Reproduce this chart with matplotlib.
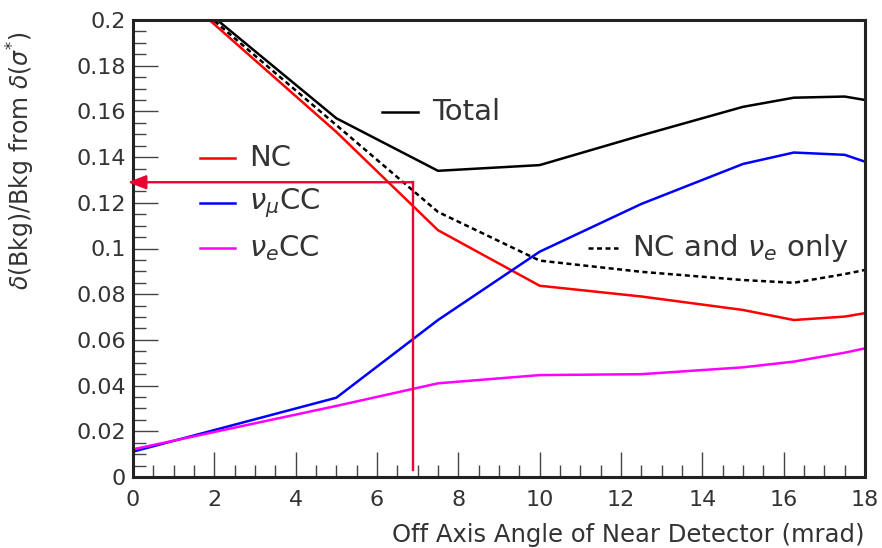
import matplotlib
matplotlib.use("Agg")
import matplotlib.pyplot as plt
from matplotlib.ticker import MultipleLocator, FixedLocator

plt.rcParams['mathtext.fontset'] = 'dejavusans'
plt.rcParams['font.family'] = ['DejaVu Sans']

# Off-axis angle (mrad)
angle = [0.0, 5.0, 7.5, 10.0, 12.5, 15.0, 16.25, 17.5, 18.0]

# Relative background uncertainty from cross-section uncertainty
total      = [0.2304, 0.157, 0.134, 0.1365, 0.1495, 0.162, 0.166, 0.1665, 0.165]
nc         = [0.2295, 0.151, 0.108, 0.0837, 0.0790, 0.0731, 0.0687, 0.0702, 0.0717]
numu_cc    = [0.0111, 0.0347, 0.0687, 0.0986, 0.1195, 0.1370, 0.1420, 0.1410, 0.1380]
nue_cc     = [0.0121, 0.0311, 0.0410, 0.0446, 0.0450, 0.0480, 0.0505, 0.0544, 0.0563]
nc_nue     = [0.2300, 0.1540, 0.1160, 0.0947, 0.0898, 0.0862, 0.0850, 0.0888, 0.0906]

# Marked operating point
chosen_angle = 6.88
chosen_value = 0.129

xticks = [0, 2, 4, 6, 8, 10, 12, 14, 16, 18]
yticks = [0, 0.02, 0.04, 0.06, 0.08, 0.1, 0.12, 0.14, 0.16, 0.18, 0.2]
ytick_labels = ["0", "0.02", "0.04", "0.06", "0.08", "0.1", "0.12",
                "0.14", "0.16", "0.18", "0.2"]

txt = "#333333"
fig = plt.figure(figsize=(8.82, 5.48), dpi=100)
ax = fig.add_axes([133 / 882, 71 / 548, 732 / 882, 457 / 548])

lw = 1.8
dash = (0, (2.0, 1.4))
ax.plot(angle, total, color="black", lw=lw)
ax.plot(angle, nc, color="#ff0000", lw=lw)
ax.plot(angle, numu_cc, color="#0000ff", lw=lw)
ax.plot(angle, nue_cc, color="#ff00ff", lw=lw)
ax.plot(angle, nc_nue, color="black", lw=lw, ls=dash)

# Operating-point marker: vertical line and arrow pointing to the y axis
mark_c = "#ee0033"
ax.plot([chosen_angle, chosen_angle], [0.003, chosen_value], color=mark_c, lw=1.7)
ax.annotate("", xy=(-0.13, chosen_value), xytext=(chosen_angle, chosen_value),
            xycoords="data", textcoords="data", annotation_clip=False,
            arrowprops=dict(arrowstyle="-|>,head_length=1.1,head_width=0.42",
                            color=mark_c, lw=1.7, shrinkA=0, shrinkB=0))

ax.set_xlim(0, 18)
ax.set_ylim(0, 0.2)
ax.xaxis.set_major_locator(FixedLocator(xticks))
ax.xaxis.set_minor_locator(MultipleLocator(0.5))
ax.yaxis.set_major_locator(FixedLocator(yticks))
ax.yaxis.set_minor_locator(MultipleLocator(0.005))
ax.set_xticklabels([str(v) for v in xticks])
ax.set_yticklabels(ytick_labels)
ax.tick_params(which="major", direction="in", length=18, width=1.0,
               color="#444444", labelsize=16, labelcolor=txt, pad=5)
ax.tick_params(axis="x", which="major", pad=9)
ax.tick_params(which="minor", direction="in", length=9, width=1.0, color="#444444")
ax.tick_params(axis="x", which="both", top=False)
ax.tick_params(axis="y", which="both", right=False)
for s in ax.spines.values():
    s.set_linewidth(2.2)
    s.set_color("#222222")

ax.set_xlabel("Off Axis Angle of Near Detector (mrad)", fontsize=17.5, color=txt,
              loc="right", labelpad=10)
fig.text(21 / 882, 1 - 160 / 548, r"$\delta$(Bkg)/Bkg from $\delta(\sigma^{*})$",
         rotation=90, ha="center", va="center", fontsize=17, color=txt)

# Legend entries
def entry(x0, x1, y, color, label, ls="-"):
    ax.plot([x0, x1], [y, y], transform=ax.transAxes, color=color, lw=lw, ls=ls,
            clip_on=False)
    ax.text(x1 + 0.02, y, label, transform=ax.transAxes, fontsize=21, color=txt,
            ha="left", va="center")

entry(0.340, 0.389, 0.799, "black", "Total")
entry(0.0915, 0.139, 0.698, "#ff0000", "NC")
entry(0.0915, 0.139, 0.600, "#0000ff", r"$\nu_{\mu}$CC")
entry(0.0915, 0.139, 0.501, "#ff00ff", r"$\nu_{e}$CC")
entry(0.622, 0.662, 0.501, "black", r"NC and $\nu_{e}$ only", ls=dash)

fig.savefig("out.png", dpi=100, facecolor="white")
